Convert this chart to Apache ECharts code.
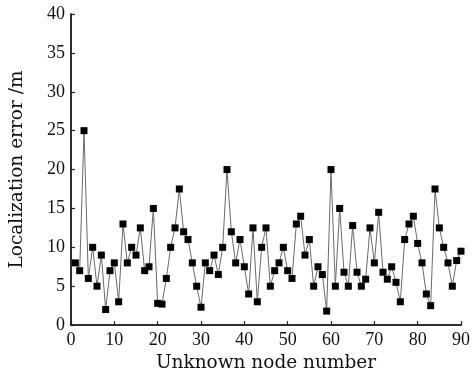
<!DOCTYPE html>
<html>
<head>
<meta charset="utf-8">
<script src="https://cdn.jsdelivr.net/npm/echarts@6/dist/echarts.min.js"></script>
<style>
  html, body { margin: 0; padding: 0; background: #fff; }
  #chart { width: 473px; height: 378px; }
</style>
</head>
<body>
<div id="chart"></div>
<script>
// Unknown node numbers 1..90 and their localization errors (m)
const nodeNumbers = Array.from({ length: 90 }, (_, i) => i + 1);
const localizationError = [
  8, 7, 25, 6, 10, 5, 9, 2, 7, 8,
  3, 13, 8, 10, 9, 12.5, 7, 7.5, 15, 2.8,
  2.7, 6, 10, 12.5, 17.5, 12, 11, 8, 5, 2.3,
  8, 7, 9, 6.5, 10, 20, 12, 8, 11, 7.5,
  4, 12.5, 3, 10, 12.5, 5, 7, 8, 10, 7,
  6, 13, 14, 9, 11, 5, 7.5, 6.5, 1.8, 20,
  5, 15, 6.8, 5, 12.8, 6.8, 5, 5.9, 12.5, 8,
  14.5, 6.8, 5.9, 7.5, 5.5, 3, 11, 13, 14, 10.5,
  8, 4, 2.5, 17.5, 12.5, 10, 8, 5, 8.3, 9.5
];
const xTicks = [0, 10, 20, 30, 40, 50, 60, 70, 80, 90];
const yTicks = [0, 5, 10, 15, 20, 25, 30, 35, 40];

const tickFont = '"Liberation Serif", "Times New Roman", serif';
const titleFont = '"DejaVu Serif", "Liberation Serif", serif';
const axisColor = '#222';

const chart = echarts.init(document.getElementById('chart'), null, { renderer: 'canvas' });

const baseAxis = {
  axisLine: { show: true, onZero: false, lineStyle: { color: axisColor, width: 1.5 } },
  axisTick: { show: true, inside: true, length: 4, lineStyle: { color: axisColor, width: 1.2 } },
  splitLine: { show: false },
  axisLabel: { color: '#111', fontFamily: tickFont, fontSize: 18, margin: 6 },
  nameTextStyle: { color: '#111', fontFamily: titleFont, fontSize: 18.5 }
};

chart.setOption({
  animation: false,
  backgroundColor: '#fff',
  grid: { left: 71, right: 7, top: 14, bottom: 45, containLabel: false },
  xAxis: [
    Object.assign({}, baseAxis, {
      type: 'value',
      min: xTicks[0],
      max: xTicks[xTicks.length - 1],
      interval: 10,
      name: 'Unknown node number',
      nameLocation: 'middle',
      nameGap: 25
    }),
    {
      type: 'value', position: 'top', min: xTicks[0], max: xTicks[xTicks.length - 1],
      axisLine: { show: true, lineStyle: { color: axisColor, width: 1.5 } },
      axisTick: { show: false }, axisLabel: { show: false }, splitLine: { show: false }
    }
  ],
  yAxis: [
    Object.assign({}, baseAxis, {
      type: 'value',
      min: yTicks[0],
      max: yTicks[yTicks.length - 1],
      interval: 5,
      name: 'Localization error /m',
      nameLocation: 'middle',
      nameRotate: 90,
      nameGap: 44
    }),
    {
      type: 'value', position: 'right', min: yTicks[0], max: yTicks[yTicks.length - 1],
      axisLine: { show: true, lineStyle: { color: axisColor, width: 1.5 } },
      axisTick: { show: false }, axisLabel: { show: false }, splitLine: { show: false }
    }
  ],
  series: [{
    type: 'line',
    data: nodeNumbers.map((n, i) => [n, localizationError[i]]),
    symbol: 'rect',
    symbolSize: 7,
    showAllSymbol: true,
    lineStyle: { color: '#6a6a6a', width: 1 },
    itemStyle: { color: '#000', borderWidth: 0 },
    clip: false
  }]
});
</script>
</body>
</html>
